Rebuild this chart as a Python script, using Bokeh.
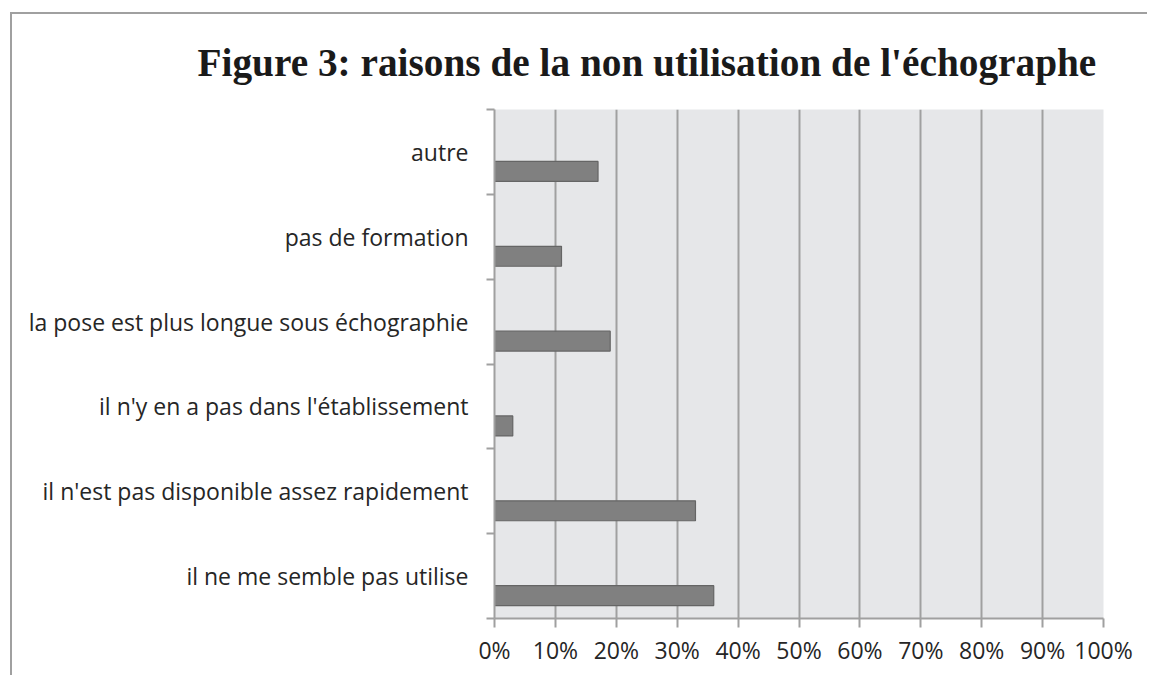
from bokeh.plotting import figure
from bokeh.models import (ColumnDataSource, FixedTicker, Range1d, Title,
                          CustomJSTickFormatter)
from bokeh.embed import file_html
from bokeh.resources import INLINE

# ---- data (bottom to top) ----
categories = [
    "il ne me semble pas utilise",
    "il n'est pas disponible assez rapidement",
    "il n'y en a pas dans l'établissement",
    "la pose est plus longue sous échographie",
    "pas de formation",
    "autre",
]
values = [36, 33, 3, 19, 11, 17]
x_ticks = [0, 10, 20, 30, 40, 50, 60, 70, 80, 90, 100]
title_text = "Figure 3: raisons de la non utilisation de l'échographe"

n = len(categories)
BAR_OFFSET = 0.27   # bar sits low in each category band (Excel style)
BAR_HEIGHT = 0.235

src = ColumnDataSource(dict(
    pos=[i + BAR_OFFSET for i in range(n)],
    val=values,
))

# host element sits at (10,12) with a 2px grey border on left/top
p = figure(width=1137, height=663, output_backend="svg", toolbar_location=None,
           x_range=Range1d(0, 100), y_range=Range1d(0, n),
           min_border_left=482, min_border_right=46, min_border_top=94,
           min_border_bottom=59)
p.margin = (12, 0, 0, 10)
p.styles = {"border-left": "2px solid #A0A0A0", "border-top": "2px solid #A0A0A0",
            "border-right": "none", "border-bottom": "none"}

p.background_fill_color = "#E6E7E9"
p.border_fill_color = "white"
p.outline_line_color = None

p.hbar(y="pos", right="val", left=0, height=BAR_HEIGHT, source=src,
       fill_color="#808080", line_color="#656565", line_width=1.2)

# x axis
xa = p.xaxis[0]
xa.ticker = FixedTicker(ticks=x_ticks)
xa.formatter = CustomJSTickFormatter(code="return tick + '%';")
xa.axis_line_color = "#A0A0A0"
xa.axis_line_width = 2
xa.major_tick_line_color = "#A0A0A0"
xa.major_tick_line_width = 2
xa.major_tick_out = 9
xa.major_tick_in = 0
xa.minor_tick_line_color = None
xa.major_label_text_font = "Open Sans"
xa.major_label_text_font_size = "23px"
xa.major_label_text_color = "#262626"
xa.major_label_standoff = 6

# y axis
ya = p.yaxis[0]
ya.ticker = FixedTicker(ticks=[i + 0.5 for i in range(n)],
                        minor_ticks=[float(i) for i in range(n + 1)])
ya.major_label_overrides = {i + 0.5: c for i, c in enumerate(categories)}
ya.axis_line_color = "#A0A0A0"
ya.axis_line_width = 2
ya.major_tick_line_color = None
ya.minor_tick_line_color = "#A0A0A0"
ya.minor_tick_line_width = 2
ya.minor_tick_out = 8
ya.minor_tick_in = 0
ya.major_label_text_font = "Open Sans"
ya.major_label_text_font_size = "23px"
ya.major_label_text_color = "#262626"
ya.major_label_standoff = 18

p.xgrid.ticker = FixedTicker(ticks=x_ticks)
p.xgrid.grid_line_color = "#A0A0A0"
p.xgrid.grid_line_width = 2
p.ygrid.grid_line_color = None

p.title = Title(text=title_text, text_font="Liberation Serif",
                text_font_size="39.3px", text_font_style="bold",
                text_color="#1a1a1a", align="left", offset=-297)
p.title.standoff = 49

open("out.html", "w").write(file_html(p, INLINE))
